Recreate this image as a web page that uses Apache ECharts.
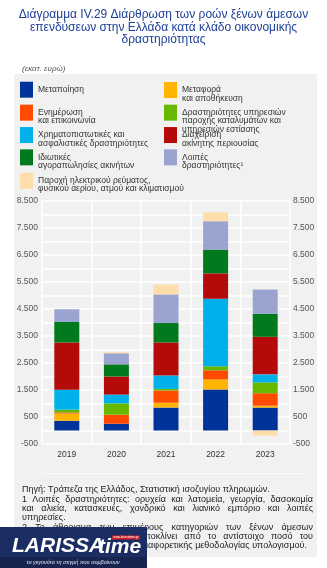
<!DOCTYPE html>
<html><head><meta charset="utf-8">
<script src="https://cdn.jsdelivr.net/npm/echarts@6/dist/echarts.min.js"></script>
<style>html,body{margin:0;padding:0;background:#fff}#c{width:327px;height:568px}</style>
</head><body><div id="c"></div>
<script>
// ---- data ----
const years = ['2019', '2020', '2021', '2022', '2023'];
const manufacturing     = [360, 250, 850, 1520, 850];
const transport         = [270, 0, 180, 370, 70];
const information       = [40, 335, 450, 340, 460];
const accommodation     = [100, 420, 60, 150, 400];
const financial         = [740, 325, 500, 2500, 300];
const realEstateMgmt    = [1750, 670, 1220, 940, 1390];
const realEstatePrivate = [760, 450, 720, 880, 850];
const otherActivities   = [470, 410, 1060, 1050, 900];
const electricity       = [0, 40, 360, 330, -190];
const yTickLabels = [-500, 500, 1500, 2500, 3500, 4500, 5500, 6500, 7500, 8500];

const seriesNames = {
  manufacturing: 'Μεταποίηση',
  transport: 'Μεταφορά\nκαι αποθήκευση',
  information: 'Ενημέρωση\nκαι επικοινωνία',
  accommodation: 'Δραστηριότητες υπηρεσιών\nπαροχής καταλυμάτων και\nυπηρεσιών εστίασης',
  financial: 'Χρηματοπιστωτικές και\nασφαλιστικές δραστηριότητες',
  realEstateMgmt: 'Διαχείριση\nακίνητης περιουσίας',
  realEstatePrivate: 'Ιδιωτικές\nαγοραπωλησίες ακινήτων',
  otherActivities: 'Λοιπές\nδραστηριότητες¹',
  electricity: 'Παροχή ηλεκτρικού ρεύματος,\nφυσικού αερίου, ατμού και κλιματισμού'
};

const FONT = '"Liberation Sans", Arial, Helvetica, sans-serif';

const seriesDefs = [
  ['manufacturing', manufacturing, '#003399'],
  ['transport', transport, '#FFB400'],
  ['information', information, '#FF4B00'],
  ['accommodation', accommodation, '#66B800'],
  ['financial', financial, '#00B0EA'],
  ['realEstateMgmt', realEstateMgmt, '#B40A0A'],
  ['realEstatePrivate', realEstatePrivate, '#007A1C'],
  ['otherActivities', otherActivities, '#9BA3D1'],
  ['electricity', electricity, '#FDDDA9']
];

const series = seriesDefs.map(([key, data, color]) => ({
  name: seriesNames[key],
  type: 'bar',
  stack: 'total',
  barWidth: 25,
  data: data,
  itemStyle: { color: color },
  emphasis: { disabled: true }
}));

// legend layout: key, left, swatch top
const LH = 8.3;
const legendLayout = [
  ['manufacturing', 20, 81.7],
  ['information', 20, 104.3],
  ['financial', 20, 126.7],
  ['realEstatePrivate', 20, 149],
  ['electricity', 20, 172.5],
  ['transport', 164, 81.7],
  ['accommodation', 164, 104.3],
  ['realEstateMgmt', 164, 126.7],
  ['otherActivities', 164, 149]
];
const legends = legendLayout.map(([key, left, top]) => {
  const name = seriesNames[key];
  const n = name.split('\n').length;
  // pad with blank lines above so that the first text line sits at the swatch's middle
  const blanks = n - 1;
  let prefix = '';
  for (let i = 0; i < blanks; i++) prefix += '\u00a0\n';
  const total = n + blanks;
  const overflow = Math.max(0, (total * LH) / 2 - 8);
  return {
    data: [name],
    left: left, top: top - overflow, padding: 0,
    icon: 'rect', itemWidth: 13, itemHeight: 16,
    selectedMode: false,
    formatter: nm => prefix + nm,
    textStyle: { fontFamily: FONT, fontSize: 8.5, lineHeight: LH, color: '#333' }
  };
});

function fmt(v) {
  return String(v).replace(/\B(?=(\d{3})+(?!\d))/g, '.');
}
function yLabel(v) { return yTickLabels.indexOf(v) >= 0 ? fmt(v) : ''; }

// justified footnote text
const mctx = document.createElement('canvas').getContext('2d');
function justified(str, x0, x1, y, font, fill) {
  mctx.font = font;
  const words = str.split(' ');
  const widths = words.map(w => mctx.measureText(w).width);
  const total = widths.reduce((a, b) => a + b, 0);
  const gap = words.length > 1 ? (x1 - x0 - total) / (words.length - 1) : 0;
  let x = x0;
  return words.map((w, i) => {
    const el = { type: 'text', x: x, y: y, z: 5, style: { text: w, font: font, fill: fill, verticalAlign: 'middle' } };
    x += widths[i] + gap;
    return el;
  });
}
const NOTE_FONT = '9px ' + FONT;
const noteFill = '#222';
const noteX0 = 22, noteX1 = 313;
let noteEls = [];
noteEls.push({ type: 'text', x: noteX0, y: 490, z: 5, style: { text: 'Πηγή: Τράπεζα της Ελλάδος, Στατιστική ισοζυγίου πληρωμών.', font: NOTE_FONT, fill: noteFill, verticalAlign: 'middle' } });
noteEls = noteEls.concat(justified('1 Λοιπές δραστηριότητες: ορυχεία και λατομεία, γεωργία, δασοκομία', noteX0, noteX1, 499.4, NOTE_FONT, noteFill));
noteEls = noteEls.concat(justified('και αλιεία, κατασκευές, χονδρικό και λιανικό εμπόριο και λοιπές', noteX0, noteX1, 508.6, NOTE_FONT, noteFill));
noteEls.push({ type: 'text', x: noteX0, y: 518, z: 5, style: { text: 'υπηρεσίες.', font: NOTE_FONT, fill: noteFill, verticalAlign: 'middle' } });
noteEls = noteEls.concat(justified('2 Το άθροισμα των επιμέρους κατηγοριών των ξένων άμεσων', noteX0, noteX1, 527.3, NOTE_FONT, noteFill));
noteEls = noteEls.concat(justified('επενδύσεων ενδέχεται να αποκλίνει από το αντίστοιχο ποσό του', noteX0, noteX1, 536.7, NOTE_FONT, noteFill));
noteEls.push({ type: 'text', x: 307, y: 546, z: 5, style: { text: 'συνόλου λόγω της διαφορετικής μεθοδολογίας υπολογισμού.', font: NOTE_FONT, fill: noteFill, align: 'right', verticalAlign: 'middle' } });

const graphics = [
  { type: 'rect', z: -10, shape: { x: 14, y: 74, width: 303, height: 483 }, style: { fill: '#f1f1f1' } },
  { type: 'text', x: 22, y: 68.5, style: { text: '(εκατ. ευρώ)', font: 'italic 8px ' + FONT, fill: '#555', verticalAlign: 'middle' } },
  { type: 'line', z: 1, shape: { x1: 42, y1: 473.5, x2: 307, y2: 473.5 }, style: { stroke: '#fbfbfb', lineWidth: 1 } }
].concat(noteEls).concat([
  // watermark logo
  { type: 'rect', z: 20, shape: { x: 0, y: 527, width: 147, height: 41 }, style: { fill: '#1c2d63' } },
  { type: 'rect', z: 21, shape: { x: 0, y: 557, width: 147, height: 11 }, style: { fill: '#16244f' } },
  { type: 'text', z: 22, x: 12, y: 546, style: { text: 'LARISSA', font: 'italic bold 21px ' + FONT, fill: '#ffffff', verticalAlign: 'middle' } },
  { type: 'text', z: 22, x: 98, y: 547, style: { text: 'time', font: 'italic bold 21px ' + FONT, fill: '#ffffff', verticalAlign: 'middle' } },
  { type: 'rect', z: 22, shape: { x: 112, y: 535.5, width: 28, height: 4 }, style: { fill: '#d21f26' } },
  { type: 'text', z: 23, x: 126, y: 537.5, style: { text: 'www.larissatime.gr', font: '3px ' + FONT, fill: '#fff', align: 'center', verticalAlign: 'middle' } },
  { type: 'text', z: 22, x: 73, y: 562, style: { text: 'τα γεγονότα τη στιγμή που συμβαίνουν', font: 'italic 5.5px ' + FONT, fill: '#dfe4f2', align: 'center', verticalAlign: 'middle' } }
]);

const yCommon = {
  type: 'value', min: -500, max: 8500, interval: 500,
  axisLine: { show: false }, axisTick: { show: false }
};

const option = {
  animation: false,
  backgroundColor: '#ffffff',
  title: {
    text: 'Διάγραμμα IV.29 Διάρθρωση των ροών ξένων άμεσων\nεπενδύσεων στην Ελλάδα κατά κλάδο οικονομικής\nδραστηριότητας',
    left: 'center', top: 8.5, padding: 0,
    textStyle: { fontFamily: FONT, fontSize: 12, fontWeight: 'normal', lineHeight: 12.5, color: '#1c3f95' }
  },
  legend: legends,
  grid: { left: 42, right: 37, top: 201, bottom: 124, containLabel: false },
  xAxis: {
    type: 'category', data: years, boundaryGap: true,
    axisLine: { show: false }, axisTick: { show: false },
    splitLine: { show: true, lineStyle: { color: '#ffffff', width: 1.5 } },
    axisLabel: { fontFamily: FONT, fontSize: 8.5, color: '#333', margin: 6 }
  },
  yAxis: [
    Object.assign({}, yCommon, {
      position: 'left',
      splitLine: { show: true, lineStyle: { color: '#ffffff', width: 1.5 } },
      axisLabel: { fontFamily: FONT, fontSize: 8.5, color: '#555', margin: 4, formatter: yLabel, showMinLabel: true, showMaxLabel: true }
    }),
    Object.assign({}, yCommon, {
      position: 'right',
      splitLine: { show: false },
      axisLabel: { fontFamily: FONT, fontSize: 8.5, color: '#555', margin: 3, formatter: yLabel, showMinLabel: true, showMaxLabel: true }
    })
  ],
  series: series,
  graphic: graphics
};

const chart = echarts.init(document.getElementById('c'), null, { renderer: 'canvas' });
chart.setOption(option);
</script>
</body></html>
